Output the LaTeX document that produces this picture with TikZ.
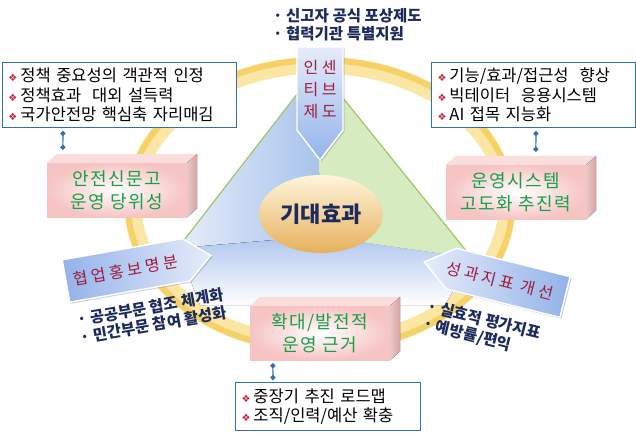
\documentclass[tikz,border=0pt]{standalone}
\usepackage{fontspec}
\setmainfont{Noto Sans CJK KR}
\newfontfamily\symfont{DejaVu Sans}
\newfontfamily\wide[LetterSpace=8]{Noto Sans CJK KR}
\newfontfamily\wider[LetterSpace=22]{Noto Sans CJK KR}
\usetikzlibrary{shapes.geometric,arrows.meta,shadows}

\definecolor{ringPale}{HTML}{FBE6A4}
\definecolor{ringDeep}{HTML}{F5D268}
\definecolor{boxBlue}{HTML}{2F6FAE}
\definecolor{itemRed}{HTML}{C0283A}
\definecolor{tagRed}{HTML}{9E1B3B}
\definecolor{pinkGreen}{HTML}{14A04A}
\definecolor{navy}{HTML}{1C2A5C}
\definecolor{pinkFace}{HTML}{F7C4C4}
\definecolor{pinkTop}{HTML}{FADDDD}
\definecolor{pinkSide}{HTML}{D9A2A2}
\definecolor{secBlue}{HTML}{A9C3EC}
\definecolor{secLow}{HTML}{AFC5EE}
\definecolor{secGreen}{HTML}{D6EBBF}
\definecolor{secLine}{HTML}{A3C46A}
\definecolor{tagBlue}{HTML}{93B2EA}
\definecolor{tagPale}{HTML}{E6ECFA}
\definecolor{goldTop}{HTML}{FFF5DC}
\definecolor{goldMid}{HTML}{F8DDA4}
\definecolor{goldLow}{HTML}{E6B05C}

\newcommand{\itm}{{\symfont\fontsize{10}{10}\selectfont\color{itemRed}❖}\hspace{3pt}}

\begin{document}
\begin{tikzpicture}
  [x=1pt,y=-1pt,
  info/.style={rectangle,draw=boxBlue,line width=1pt,fill=white,anchor=north west,
    align=left,inner xsep=6pt,inner ysep=2pt,font=\fontsize{16.5}{19.5}\selectfont},
  pbox/.style={rectangle,minimum width=140,minimum height=54,inner color=white,
    outer color=pinkFace,text=pinkGreen,align=center,
    font=\wide\fontsize{18}{23}\selectfont},
  tagshape/.style={draw=white,line width=1.4pt,
    drop shadow={opacity=0.35,shadow xshift=1.5pt,shadow yshift=-1.5pt}},
  tag/.style={text=tagRed,align=center,inner sep=0pt,font=\wider\fontsize{16}{22}\selectfont},
  note/.style={align=left,inner sep=0pt,text=navy,
    font=\bfseries\fontsize{15.5}{18}\selectfont},
  link/.style={draw=boxBlue,line width=1.2pt,{Circle[length=5pt]}-{Circle[length=5pt]}}]

  \useasboundingbox[fill=white] (0,0) rectangle (636,434);

  % ring
  \draw[ringPale,line width=17] (320,205) ellipse [x radius=187,y radius=140];
  \draw[ringDeep,line width=6] (320,205) ellipse [x radius=192,y radius=145];

  \coordinate (apex) at (318,67);
  \coordinate (lv) at (178,248);
  \coordinate (rv) at (472,258);
  \coordinate (ctr) at (320,236);
  \fill[top color=secLow,bottom color=white] (lv) -- (ctr) -- (rv) -- (445,305) -- (200,305) -- cycle;
  \fill[left color=secBlue!30!white,right color=secBlue] (apex) -- (lv) -- (ctr) -- cycle;
  \fill[secGreen] (apex) -- (ctr) -- (rv) -- cycle;
  \draw[secLine,line width=1.2] (lv) -- (apex) -- (rv);

  \node[ellipse,minimum width=112,minimum height=78,top color=goldTop,
    middle color=goldMid,bottom color=goldLow,
    text=navy,font=\bfseries\fontsize{22}{22}\selectfont] (goal) at (321,214) {기대효과};

  \node[pbox] (ansim) at (117,190) {안전신문고\\운영 당위성};
  \node[pbox] (unyeong) at (516,192) {운영시스템\\고도화 추진력};
  \node[pbox] (hwakdae) at (320,333) {확대/발전적\\운영 근거};
  \foreach \b in {ansim,unyeong,hwakdae}{
    \fill[pinkTop] (\b.north west) -- ++(10,-9) -- ([shift={(10,-9)}]\b.north east)
      -- (\b.north east) -- cycle;
    \fill[left color=pinkSide!60!white,right color=pinkSide] (\b.north east) -- ++(10,-9)
      -- ([shift={(10,-9)}]\b.south east) -- (\b.south east) -- cycle;
  }

  \node[info,minimum width=234,minimum height=65,text width=222] (ansimtxt) at (2,62)
    {\itm 정책 중요성의 객관적 인정\\\itm 정책효과\ \ 대외 설득력\\\itm 국가안전망 핵심축 자리매김};
  \node[info,minimum width=204,minimum height=65,text width=192] (unyeongtxt) at (431,62)
    {\itm 기능/효과/접근성\ \ 향상\\\itm 빅테이터\ \ 응용시스템\\\itm AI 접목 지능화};
  \node[info,minimum width=185,minimum height=48,text width=173] (hwakdaetxt) at (235,382)
    {\itm 중장기 추진 로드맵\\\itm 조직/인력/예산 확충};

  \draw[link] ([xshift=61pt,yshift=-3pt]ansimtxt.south west) -- ([xshift=16pt,yshift=13pt]ansim.north west);
  \draw[link] ([xshift=105pt,yshift=-3pt]unyeongtxt.south west) -- ([xshift=90pt,yshift=13pt]unyeong.north west);
  \draw[link] ([xshift=23pt,yshift=-3pt]hwakdae.south west) -- ([xshift=38pt,yshift=2pt]hwakdaetxt.north west);

  % arrow labels
  \path[tagshape,top color=tagPale,bottom color=tagBlue]
    (297,47) -- (343,47) -- (343,130) -- (320,160) -- (297,130) -- cycle;
  \node[tag] (insen) at (320,90) {인센\\티브\\제도};

  \begin{scope}[shift={(66,281)},rotate=10]
    \path[tagshape,left color=tagBlue,right color=tagPale]
      (0,-21.5) -- (122,-21.5) -- (147,0) -- (122,21.5) -- (0,21.5) -- cycle;
    \node[tag,transform shape] (hyeop) at (61,0) {협업홍보명분};
  \end{scope}

  \begin{scope}[shift={(565,297)},rotate=-14]
    \path[tagshape,left color=tagPale,right color=tagBlue]
      (0,-21) -- (-117,-21) -- (-145,0) -- (-117,21) -- (0,21) -- cycle;
    \node[tag,transform shape] (seonggwa) at (-67,0) {성과지표 개선};
  \end{scope}

  \node[note,anchor=west] (insennote) at (273,25) {· 신고자 공식 포상제도\\· 협력기관 특별지원};
  \node[note,rotate=10] (hyeopnote) at (152,316) {· 공공부문 협조 체계화\\· 민간부문 참여 활성화};
  \node[note,rotate=-14] (seonggwanote) at (482,329) {· 실효적 평가지표\\· 예방률/편익};
\end{tikzpicture}
\end{document}
